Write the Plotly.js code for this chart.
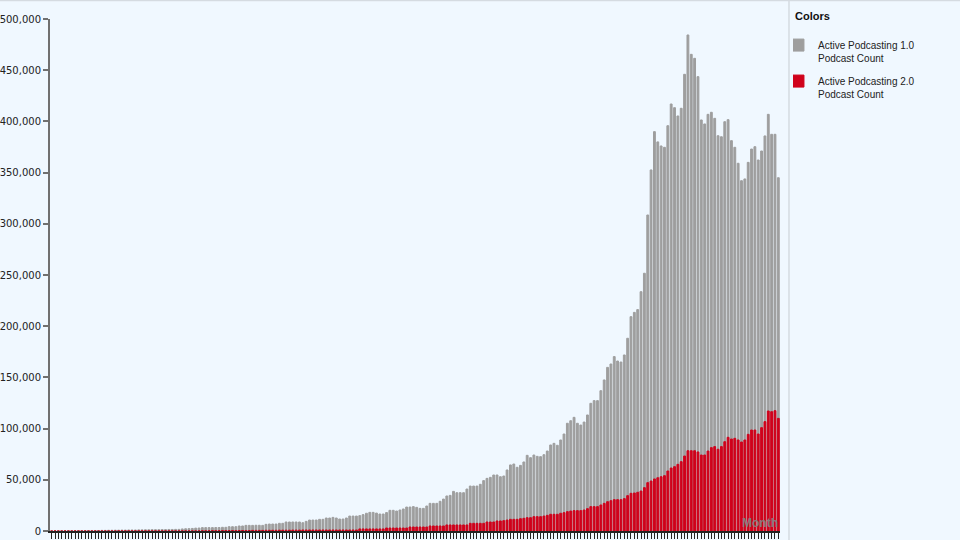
<!DOCTYPE html>
<html>
<head>
<meta charset="utf-8">
<script src="https://cdn.plot.ly/plotly-3.0.1.min.js"></script>
<style>
html,body{margin:0;padding:0;background:#f0f8ff;}
#chart{width:960px;height:540px;}
</style>
</head>
<body>
<div id="chart"></div>
<script>
// Active Podcasting 1.0 podcast count (thousands), one value per month
const podcasting1 = [
  0.2,0.2,0.2,0.3,0.3,0.3,0.3,0.3,0.4,0.4,0.4,0.4,0.5,0.5,0.5,
  0.6,0.6,0.7,0.7,0.8,0.8,0.9,0.9,1.0,1.0,1.0,1.1,1.1,1.2,1.2,
  1.3,1.3,1.3,1.4,1.4,1.5,1.5,1.6,1.6,2.0,2.2,2.3,2.5,2.8,2.9,
  3.3,3.3,3.3,3.3,3.4,3.4,3.6,3.6,4.2,4.2,4.2,4.9,4.9,5.5,5.5,
  5.5,5.6,5.6,5.5,6.5,6.8,6.8,6.8,7.5,7.5,8.8,8.8,8.8,8.8,8.8,
  8.1,9.4,10.7,10.7,10.7,11.4,11.4,12.7,12.7,13.3,12.7,11.7,11.7,12.7,14.6,
  14.6,14.6,15.0,16.0,17.3,18.2,18.2,17.5,16.6,16.6,18.0,20.2,20.2,19.5,20.5,
  21.5,23.4,23.4,23.8,23.1,22.1,22.1,24.4,27,27,27,29,31.2,34.2,34.8,
  38.7,37.4,37.4,37.4,41,43.9,43.9,43.9,45.6,49.2,51.4,52.4,54.7,
  54.7,53,53.7,59.6,64.5,65.4,62.2,64.1,67.4,73.9,71.6,74.2,72.9,72.6,74.5,
  78.1,84,85.6,83.7,88.9,94.7,105.2,107.7,111,105.2,103.5,106.4,113.3,124.7,127.3,
  127.3,137,147.5,159.8,163.1,170.3,166,165,171.9,188.2,209.3,213.5,216.2,
  233.7,251.7,308.6,352.6,390,380,376,374.7,395.8,417,413.4,405.3,412.8,446,484.4,
  465.5,461.6,443.7,401.4,397.5,406.9,408.9,403,386,385,399.7,401.7,381.2,374.7,359.1,
  342.1,343.8,360,373,375.3,362.3,371.1,385.8,406.9,387.4,387.4,345
];
// Active Podcasting 2.0 podcast count (thousands)
const podcasting2 = [
  0.02,0.02,0.02,0.02,0.02,0.02,0.02,0.02,0.02,0.02,0.02,0.02,0.02,0.02,0.02,
  0.02,0.02,0.02,0.02,0.02,0.1,0.1,0.1,0.1,0.1,0.1,0.1,0.1,0.1,0.1,
  0.1,0.1,0.1,0.1,0.1,0.1,0.1,0.1,0.1,0.1,0.1,0.1,0.1,0.1,0.1,
  0.2,0.2,0.2,0.3,0.3,0.3,0.3,0.4,0.4,0.4,0.4,0.5,0.5,0.5,0.5,
  0.6,0.6,0.6,0.6,0.7,0.7,0.7,0.7,0.8,0.8,0.8,0.8,0.9,0.9,0.9,
  1.0,1.0,1.0,1.0,1.0,1.0,1.0,1.0,1.0,1.0,1.0,1.0,1.0,1.0,1.0,
  1.0,1.0,2.0,2.0,2.0,2.0,2.0,2.0,2.0,2.0,2.9,2.9,2.9,2.9,2.9,
  2.9,2.9,3.9,3.9,3.9,3.9,3.9,3.9,4.9,4.9,4.9,4.9,4.9,5.9,5.9,
  5.9,5.9,5.9,5.9,5.9,7.5,7.5,7.5,7.5,7.5,8.8,8.8,8.8,
  9.8,9.8,10.1,10.7,11.4,11.4,11.4,12.0,12.4,13.0,13.0,14.0,14.0,14.0,14.6,
  15.3,16.3,16.3,16.3,17.3,17.9,18.9,19.5,19.9,19.9,19.9,20.5,21.8,23.8,23.8,
  23.8,25.4,27.0,28.6,29.6,30.6,30.6,30.6,31.6,34.5,36.8,37.1,37.8,
  39,42.3,47.2,48.8,50.8,52,53,54,58.6,61.5,62.8,65.1,67.7,73.2,78.4,
  78.4,78.4,77.2,74.2,74.2,78.1,81.4,82.4,79.8,82.4,87.2,91.5,89.8,90.5,88.9,
  86.9,88.9,94.4,98.6,98.6,94.7,100.9,106.8,117.2,116.5,117.5,110
];
const seriesNames = ["Active Podcasting 1.0<br>Podcast Count", "Active Podcasting 2.0<br>Podcast Count"];
const startYear = 2005, startMonth = 1;
const yTicks = [0,50000,100000,150000,200000,250000,300000,350000,400000,450000,500000];

const months = [];
for (let i = 0; i < podcasting1.length; i++) {
  const m = (startMonth - 1 + i) % 12 + 1;
  const y = startYear + Math.floor((startMonth - 1 + i) / 12);
  months.push(y + "-" + String(m).padStart(2, "0"));
}
const v1 = podcasting1.map(v => Math.round(v * 1000));
const v2 = podcasting2.map(v => Math.round(v * 1000));

const traces = [
  {type:"bar", x:months, y:v1, name:seriesNames[0], legendgroup:"g1",
   marker:{color:"#9e9e9e", line:{color:"#9e9e9e", width:1}}, hoverinfo:"x+y"},
  {type:"bar", x:months, y:v2, name:seriesNames[1], legendgroup:"g2",
   marker:{color:"#d0021b", line:{color:"#d0021b", width:1}}, hoverinfo:"x+y"}
];

const layout = {
  width:960, height:540,
  margin:{l:50, r:180, t:19, b:9, pad:0},
  paper_bgcolor:"#f0f8ff", plot_bgcolor:"#f0f8ff",
  barmode:"overlay", bargap:0.45,
  font:{family:"DejaVu Sans", size:10, color:"#222"},
  xaxis:{type:"category", tickmode:"linear", dtick:1, ticks:"outside", ticklen:6, tickwidth:1, tickcolor:"#222",
         showline:true, linecolor:"#222", linewidth:1.5, showgrid:false, zeroline:false,
         showticklabels:false, automargin:false, fixedrange:true},
  yaxis:{range:[0,500000], tickmode:"array", tickvals:yTicks, tickformat:",d", ticks:"outside", ticklen:5, tickwidth:2,
         tickcolor:"#707070", showline:true, linecolor:"#707070", linewidth:2, showgrid:false, zeroline:false,
         tickfont:{size:10, color:"#222", family:"DejaVu Sans"}, automargin:false},
  showlegend:true,
  legend:{xref:"container", yref:"container", x:0.826, xanchor:"left", y:0.9406, yanchor:"top", bgcolor:"rgba(0,0,0,0)",
          indentation:-15, valign:"top",
          font:{family:"Liberation Sans, Arial", size:10, color:"#222"}, tracegroupgap:7, traceorder:"grouped"},
  annotations:[
    {xref:"paper", yref:"paper", x:1, y:0, xanchor:"right", yanchor:"bottom", yshift:-1,
     text:"<b>Month</b>", showarrow:false, font:{family:"Liberation Sans, Arial", size:12, color:"rgba(130,130,130,0.95)"}},
    {xref:"paper", yref:"paper", x:1.018, y:1.0059, xanchor:"left", yanchor:"middle",
     text:"<b>Colors</b>", showarrow:false, font:{family:"Liberation Sans, Arial", size:11, color:"#111"}}
  ],
  shapes:[
    {type:"line", xref:"paper", yref:"paper", x0:1.0123, x1:1.0123, y0:-0.02, y1:1.04, line:{color:"#d5dbe1", width:1.5}},
    {type:"line", xref:"paper", yref:"paper", x0:-0.07, x1:1.25, y0:1.0361, y1:1.0361, line:{color:"#d5dbe1", width:1.5}}
  ]
};

Plotly.newPlot("chart", traces, layout, {displayModeBar:false, staticPlot:true});
</script>
</body>
</html>
